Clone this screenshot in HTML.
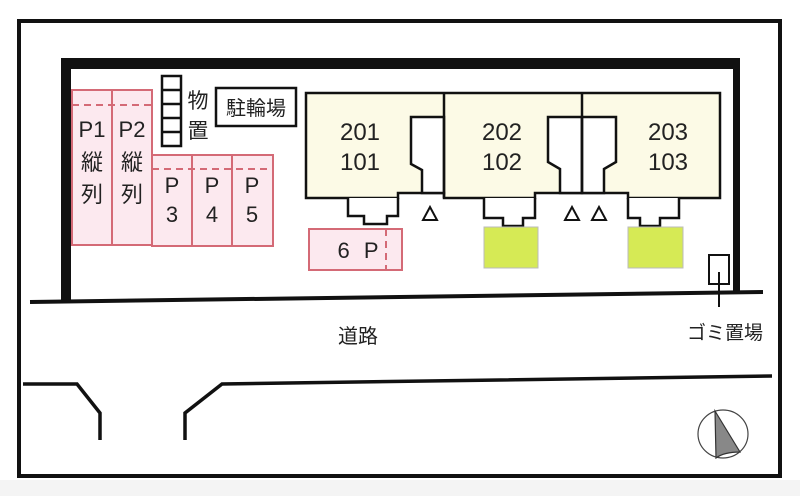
<!DOCTYPE html>
<html><head><meta charset="utf-8"><style>
html,body{margin:0;padding:0;background:#fff;}
svg{display:block;}
text{font-family:"Liberation Sans","Noto Sans CJK JP",sans-serif;fill:#222;}
</style></head><body>
<svg width="800" height="496" viewBox="0 0 800 496" xmlns="http://www.w3.org/2000/svg">
<rect x="0" y="0" width="800" height="496" fill="#fff"/>
<rect x="0" y="480" width="800" height="16" fill="#f4f4f4"/>
<!-- outer frame -->
<rect x="19" y="21" width="761" height="455" fill="none" stroke="#111" stroke-width="4"/>
<!-- inner walls -->
<rect x="61" y="58" width="10" height="244" fill="#111"/>
<rect x="61" y="58" width="679" height="11" fill="#111"/>
<rect x="733" y="58" width="7" height="236" fill="#111"/>
<line x1="30" y1="302" x2="763" y2="292" stroke="#111" stroke-width="4"/>
<!-- parking -->
<g fill="#fce9ef" stroke="#d46a76" stroke-width="2">
<rect x="72" y="90" width="40" height="155"/>
<rect x="112" y="90" width="40" height="155"/>
<rect x="152" y="155" width="40" height="91"/>
<rect x="192" y="155" width="40" height="91"/>
<rect x="232" y="155" width="41" height="91"/>
<rect x="309" y="229" width="93" height="41"/>
</g>
<g stroke="#d46a76" stroke-width="2" stroke-dasharray="7,5" fill="none">
<line x1="72" y1="105" x2="152" y2="105"/>
<line x1="152" y1="169" x2="273" y2="169"/>
<line x1="386" y1="229" x2="386" y2="270"/>
</g>
<g font-size="22" text-anchor="middle">
<text x="92" y="137">P1</text><text x="132" y="137">P2</text>
<text x="92" y="170">縦</text><text x="132" y="170">縦</text>
<text x="92" y="202">列</text><text x="132" y="202">列</text>
<text x="172" y="193">P</text><text x="212" y="193">P</text><text x="252" y="193">P</text>
<text x="172" y="222">3</text><text x="212" y="222">4</text><text x="252" y="222">5</text>
<text x="360" y="258" letter-spacing="4">6 P</text>
</g>
<!-- storage -->
<g fill="none" stroke="#111" stroke-width="2.5">
<rect x="162" y="76" width="19" height="70"/>
<line x1="162" y1="90" x2="181" y2="90"/><line x1="162" y1="104" x2="181" y2="104"/>
<line x1="162" y1="118" x2="181" y2="118"/><line x1="162" y1="132" x2="181" y2="132"/>
<rect x="216" y="88" width="80" height="38"/>
</g>
<text x="198" y="108" font-size="21" text-anchor="middle">物</text>
<text x="198" y="138" font-size="21" text-anchor="middle">置</text>
<text x="256" y="115" font-size="20" text-anchor="middle">駐輪場</text>
<!-- building -->
<path d="M306,93 H720 V198 H628 V193 H535 V198 H444 V193 H398 V198 H306 Z" fill="#fcfae6" stroke="#111" stroke-width="2.5"/>
<g fill="#fff" stroke="#111" stroke-width="2.5">
<path d="M444,117 H411 V164 L422,170 V193 H444 Z"/>
<path d="M582,117 H548 V162 L560,169 V193 H582 Z"/>
<path d="M582,117 H616 V162 L604,169 V193 H582 Z"/>
</g>
<line x1="444" y1="93" x2="444" y2="198" stroke="#111" stroke-width="2.5"/>
<line x1="582" y1="93" x2="582" y2="193" stroke="#111" stroke-width="2.5"/>
<g font-size="24" text-anchor="middle">
<text x="360" y="140">201</text><text x="360" y="170">101</text>
<text x="502" y="140">202</text><text x="502" y="170">102</text>
<text x="668" y="140">203</text><text x="668" y="170">103</text>
</g>
<!-- porches -->
<g fill="#fff" stroke="#111" stroke-width="2.5">
<path d="M348,198 V216 H364 V224 H387 V216 H398 V198"/>
<path d="M484,198 V218 H503 V226 H523 V218 H535 V198"/>
<path d="M628,198 V218 H640 V226 H660 V218 H679 V198"/>
</g>
<rect x="484" y="227" width="54" height="41" fill="#d6ea55" stroke="#bbb" stroke-width="1"/>
<rect x="628" y="227" width="55" height="41" fill="#d6ea55" stroke="#bbb" stroke-width="1"/>
<g fill="#fff" stroke="#111" stroke-width="2">
<polygon points="430,207 423,220 437,220"/>
<polygon points="572,207 565,220 579,220"/>
<polygon points="599,207 592,220 606,220"/>
</g>
<!-- gomi -->
<rect x="709" y="255" width="20" height="29" fill="#fff" stroke="#111" stroke-width="2"/>
<line x1="719" y1="272" x2="719" y2="307" stroke="#111" stroke-width="2"/>
<text x="725" y="339" font-size="19" text-anchor="middle">ゴミ置場</text>
<text x="358" y="343" font-size="20" text-anchor="middle">道路</text>
<!-- road -->
<g fill="none" stroke="#111" stroke-width="3.5">
<polyline points="23,384 77,384 100,413 100,440"/>
<polyline points="185,440 185,413 222,384 772,376"/>
</g>
<!-- compass -->
<ellipse cx="723" cy="434" rx="25" ry="24" fill="#fff" stroke="#444" stroke-width="1.2"/>
<path d="M715,411 L740,452 Q724,452 716,458 Z" fill="#888" stroke="#333" stroke-width="1.2"/>
</svg>
</body></html>
